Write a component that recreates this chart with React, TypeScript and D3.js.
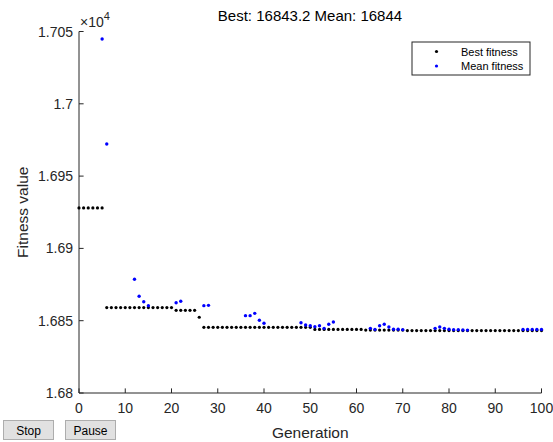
import React from "react";
import * as d3 from "d3";

const generations: number[] = d3.range(0, 101);

const bestFitness: number[] = [
  16928, 16928, 16928, 16928, 16928, 16928, 16859.1, 16859.1, 16859.1, 16859.1,
  16859.1, 16859.1, 16859.1, 16859.1, 16859.1, 16859.1, 16859.1, 16859.1, 16859.1, 16859.1,
  16859.1, 16857.2, 16857.2, 16857.2, 16857.2, 16857.2, 16852.4, 16845.4, 16845.4, 16845.4,
  16845.4, 16845.4, 16845.4, 16845.4, 16845.4, 16845.4, 16845.4, 16845.4, 16845.4, 16845.4,
  16845.4, 16845.4, 16845.4, 16845.4, 16845.4, 16845.4, 16845.4, 16845.4, 16845.4, 16845.4,
  16845.4, 16844.0, 16844.0, 16844.0, 16844.0, 16844.0, 16844.0, 16844.0, 16844.0, 16844.0,
  16844.0, 16844.0, 16843.5, 16843.5, 16843.5, 16843.5, 16843.5, 16843.5, 16843.5, 16843.5,
  16843.5, 16843.2, 16843.2, 16843.2, 16843.2, 16843.2, 16843.2, 16843.2, 16843.2, 16843.2,
  16843.2, 16843.2, 16843.2, 16843.2, 16843.2, 16843.2, 16843.2, 16843.2, 16843.2, 16843.2,
  16843.2, 16843.2, 16843.2, 16843.2, 16843.2, 16843.2, 16843.2, 16843.2, 16843.2, 16843.2,
  16843.2,
];

const meanFitness: (number | null)[] = [
  null, null, null, null, null, 17044.8, 16972.2, null, null, null,
  null, null, 16878.7, 16866.9, 16863.1, 16860.4, null, null, null, null,
  null, 16862.4, 16863.5, null, null, null, null, 16860.4, 16860.6, null,
  null, null, null, null, null, null, 16853.5, 16853.5, 16855.1, 16850.3,
  16848.2, null, null, null, null, null, null, null, 16848.6, 16847.0,
  16846.5, 16845.9, 16846.5, 16844.7, 16847.5, 16849.1, null, null, null, null,
  null, null, null, 16844.7, 16844.0, 16846.5, 16847.5, 16845.6, 16844.1, 16844.1,
  16843.8, null, null, null, null, null, null, 16844.7, 16845.6, 16844.7,
  16844.1, 16843.8, 16843.8, 16843.6, 16843.5, null, null, null, null, null,
  null, null, null, null, null, null, 16843.9, 16843.9, 16843.9, 16843.9,
  16843.9,
];

const xTicks: number[] = [0, 10, 20, 30, 40, 50, 60, 70, 80, 90, 100];
const yTicks: number[] = [16800, 16850, 16900, 16950, 17000, 17050];
const yTickLabels: string[] = ["1.68", "1.685", "1.69", "1.695", "1.7", "1.705"];
const titleText = "Best: 16843.2 Mean: 16844";
const legendLabels: string[] = ["Best fitness", "Mean fitness"];
const buttonLabels: string[] = ["Stop", "Pause"];

const FONT = "'Liberation Sans', Arial, Helvetica, sans-serif";
const AX = "#262626";

export default function App() {
  const W = 553;
  const H = 442;
  const x = d3.scaleLinear().domain([0, 100]).range([79, 541.5]);
  const y = d3.scaleLinear().domain([16800, 17050]).range([393, 31.5]);
  const [x0, x1] = x.range();
  const [yb, yt] = y.range();
  const tickLen = 4.6;

  const bestPts = generations.map((g, i) => ({ g, v: bestFitness[i] }));
  const meanPts = generations
    .map((g, i) => ({ g, v: meanFitness[i] }))
    .filter((d) => d.v !== null) as { g: number; v: number }[];

  return (
    <svg
      width={W}
      height={H}
      style={{ position: "absolute", left: 0, top: 0, background: "#fff" }}
      fontFamily={FONT}
    >
      <rect x={0} y={0} width={W} height={H} fill="#fff" />
      {/* title */}
      <text x={310} y={21} textAnchor="middle" fontSize={15} fill="#000">
        {titleText}
      </text>
      {/* exponent */}
      <text x={80} y={27} fontSize={14} fill={AX}>
        ×10
        <tspan dy={-7} fontSize={11}>
          4
        </tspan>
      </text>

      {/* axes */}
      <line x1={x0} x2={x1} y1={yb} y2={yb} stroke={AX} strokeWidth={1} />
      <line x1={x0} x2={x0} y1={yb} y2={yt} stroke={AX} strokeWidth={1} />
      {xTicks.map((t) => (
        <g key={"xt" + t}>
          <line x1={x(t)} x2={x(t)} y1={yb} y2={yb - tickLen} stroke={AX} />
          <text x={x(t)} y={yb + 20} textAnchor="middle" fontSize={14} fill={AX}>
            {t}
          </text>
        </g>
      ))}
      {yTicks.map((t, i) => (
        <g key={"yt" + t}>
          <line x1={x0} x2={x0 + tickLen} y1={y(t)} y2={y(t)} stroke={AX} />
          <text x={x0 - 6} y={y(t) + 5} textAnchor="end" fontSize={14} fill={AX}>
            {yTickLabels[i]}
          </text>
        </g>
      ))}

      {/* axis labels */}
      <text x={(x0 + x1) / 2} y={438} textAnchor="middle" fontSize={15.5} fill={AX}>
        Generation
      </text>
      <text
        transform={`translate(28, ${(yb + yt) / 2}) rotate(-90)`}
        textAnchor="middle"
        fontSize={15.5}
        fill={AX}
      >
        Fitness value
      </text>

      {/* data */}
      {bestPts.map((d) => (
        <circle key={"b" + d.g} cx={x(d.g)} cy={y(d.v)} r={1.6} fill="#000" />
      ))}
      {meanPts.map((d) => (
        <circle key={"m" + d.g} cx={x(d.g)} cy={y(d.v)} r={1.7} fill="#0000ff" />
      ))}

      {/* legend */}
      <rect x={412} y={42} width={118} height={33} fill="#fff" stroke={AX} strokeWidth={1} />
      {legendLabels.map((l, i) => (
        <g key={l}>
          <circle cx={436.5} cy={51.5 + i * 14.5} r={1.6} fill={i === 0 ? "#000" : "#0000ff"} />
          <text x={461} y={55.5 + i * 14.5} fontSize={11} fill="#000">
            {l}
          </text>
        </g>
      ))}

      {/* buttons */}
      {buttonLabels.map((b, i) => (
        <g key={b}>
          <rect
            x={3.5 + i * 62}
            y={420.5}
            width={50}
            height={19}
            fill="#e1e1e1"
            stroke="#adadad"
            strokeWidth={1}
          />
          <text x={28.5 + i * 62} y={435} textAnchor="middle" fontSize={12} fill="#000">
            {b}
          </text>
        </g>
      ))}
    </svg>
  );
}
